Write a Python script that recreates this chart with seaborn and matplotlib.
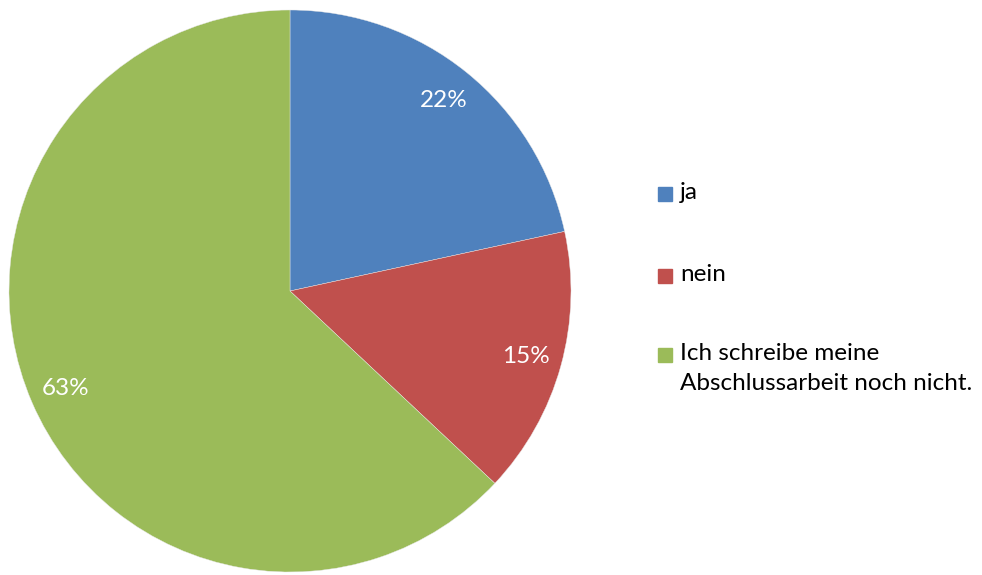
import seaborn as sns
import matplotlib.pyplot as plt
from matplotlib.patches import Rectangle

# ---- data ----
labels = ['ja', 'nein', 'Ich schreibe meine\nAbschlussarbeit noch nicht.']
values = [21.6, 15.4, 63.0]
colors = ['#4F81BD', '#C0504D', '#9BBB59']

sns.set_theme(style='white')
plt.rcParams['font.family'] = ['Lato', 'DejaVu Sans']

W, H = 982, 575
fig = plt.figure(figsize=(W / 100, H / 100), dpi=100)

# pie centre (290, 291), radius 281 px
cx, cy, r = 290, 291, 281
ax = fig.add_axes([(cx - r) / W, (H - cy - r) / H, 2 * r / W, 2 * r / H])
wedges, texts, autotexts = ax.pie(
    values, colors=colors, startangle=90, counterclock=False,
    autopct='%1.0f%%', pctdistance=0.87, radius=1,
    wedgeprops=dict(linewidth=0.3, edgecolor='#e8e8e8'),
    textprops=dict(color='white', fontsize=17.5))
ax.set_xlim(-1, 1)
ax.set_ylim(-1, 1)
ax.set_aspect('equal')
ax.axis('off')

# ---- legend, drawn by hand so the marker sits by the first line ----
rows_y = [194, 276, 355]
for lab, col, y in zip(labels, colors, rows_y):
    fig.patches.append(Rectangle((658 / W, (H - y - 7) / H), 14 / W, 14 / H,
                                 color=col, transform=fig.transFigure))
    fig.text(680 / W, (H - y + 12) / H, lab, fontsize=17.5, color='black',
             ha='left', va='top', linespacing=1.55,
             transform=fig.transFigure)

fig.savefig('out.png', dpi=100)
